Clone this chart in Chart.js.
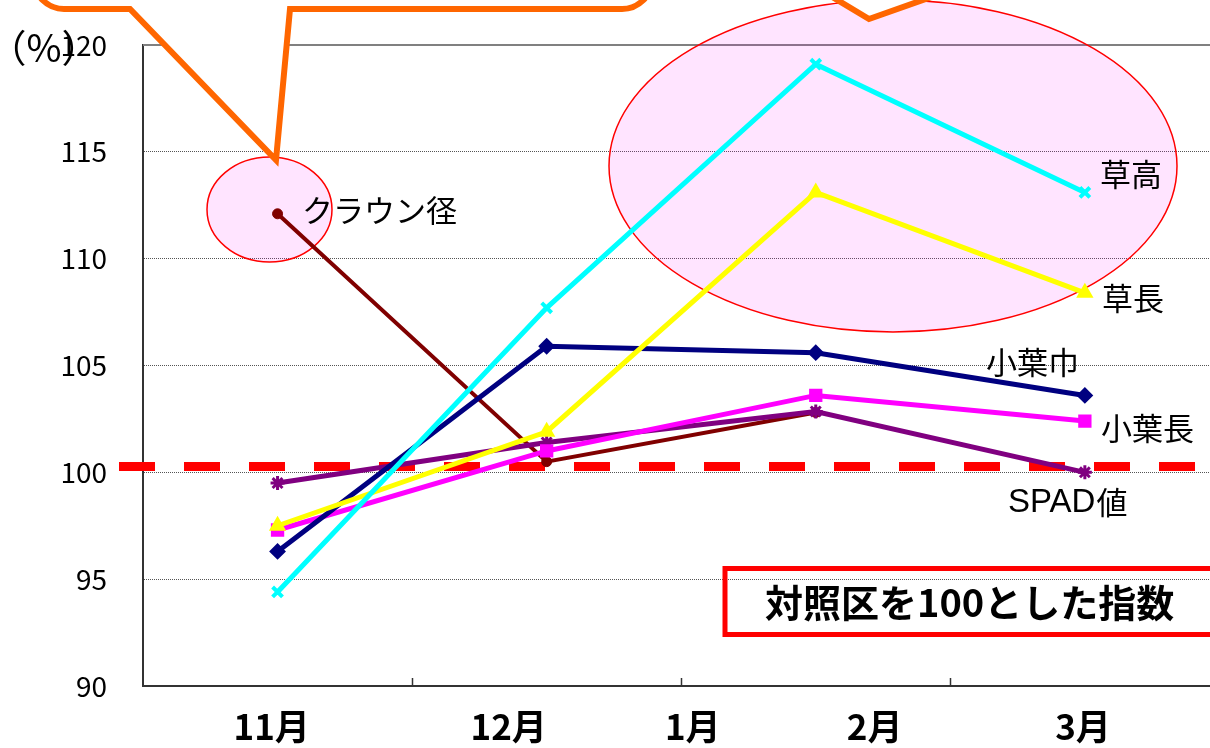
<!DOCTYPE html>
<html><head><meta charset="utf-8">
<script src="https://cdn.jsdelivr.net/npm/chart.js@4.4.1/dist/chart.umd.min.js"></script>
<style>html,body{margin:0;padding:0;background:#fff;overflow:hidden}#wrap{position:relative;width:1210px;height:748px}</style>
</head><body><div id="wrap"><canvas id="c"></canvas></div>
<script>
// ---- data ----
const categories = ['11月', '12月', '2月', '3月'];
const categoryPos = [0.5, 1.5, 2.5, 3.5];
const monthLabels = ['11月', '12月', '1月', '2月', '3月'];
const monthLabelPos = [0.478, 1.359, 2.043, 2.719, 3.493];
const kusadaka = [94.4, 107.7, 119.1, 113.1];      // 草高
const kusanaga = [97.5, 101.9, 113.1, 108.4];      // 草長
const shoyouhaba = [96.3, 105.9, 105.6, 103.6];    // 小葉巾
const shoyouchou = [97.3, 101.0, 103.6, 102.4];    // 小葉長
const spad = [99.5, 101.4, 102.85, 100.0];         // SPAD値
const crown = [112.1, 100.5, 102.8, null];         // クラウン径
const yTicks = [90, 95, 100, 105, 110, 115, 120];
const referenceLine = 100.27;

const FONT = '"Noto Sans CJK JP", "Noto Sans", sans-serif';
const pts = arr => arr.map((v, i) => ({x: categoryPos[i], y: v}));

function series(label, data, color, style, radius, bw, lw) {
  return {
    label, data: pts(data), borderColor: color, backgroundColor: color,
    borderWidth: lw, pointStyle: style, pointRadius: radius,
    pointBorderWidth: bw, pointBackgroundColor: color, pointBorderColor: color,
    tension: 0, spanGaps: false
  };
}

function ellipse(ctx, cx, cy, rx, ry) {
  ctx.beginPath();
  ctx.ellipse(cx, cy, rx, ry, 0, 0, Math.PI * 2);
  ctx.fillStyle = 'rgba(255,0,255,0.105)';
  ctx.fill();
  ctx.strokeStyle = '#FF0000';
  ctx.lineWidth = 1.5;
  ctx.stroke();
}

const overlay = {
  id: 'overlay',
  beforeDatasetsDraw(chart) {
    const {ctx, chartArea: a, scales: {x, y}} = chart;
    ctx.save();
    const yt = y.getPixelForValue(120);
    ctx.strokeStyle = '#808080'; ctx.lineWidth = 2;
    ctx.beginPath(); ctx.moveTo(a.left, yt); ctx.lineTo(a.right, yt); ctx.stroke();
    ellipse(ctx, 269.5, 209.5, 62.5, 52.5);
    ellipse(ctx, 893, 166, 284, 166);
    ctx.strokeStyle = '#333'; ctx.lineWidth = 1.5;
    [1, 2, 3].forEach(v => {
      const px = Math.round(x.getPixelForValue(v)) + 0.5;
      ctx.beginPath(); ctx.moveTo(px, a.bottom - 8); ctx.lineTo(px, a.bottom); ctx.stroke();
    });
    const yr = y.getPixelForValue(referenceLine);
    ctx.strokeStyle = '#FF0000'; ctx.lineWidth = 9; ctx.setLineDash([36, 29]);
    ctx.beginPath(); ctx.moveTo(119, yr); ctx.lineTo(1196, yr); ctx.stroke();
    ctx.restore();
  },
  afterDraw(chart) {
    const {ctx} = chart;
    ctx.save();
    ctx.fillStyle = '#000';
    ctx.textBaseline = 'middle';
    ctx.textAlign = 'left';
    ctx.font = '31px ' + FONT;
    ctx.fillText('草高', 1100, 174);
    ctx.fillText('草長', 1102, 298);
    ctx.fillText('小葉巾', 986, 362);
    ctx.fillText('小葉長', 1101, 428);
    ctx.fillText('クラウン径', 302, 210);
    ctx.font = '33px "Liberation Sans", Arial, sans-serif';
    ctx.fillText('SPAD', 1008, 503);
    const sw = ctx.measureText('SPAD').width;
    ctx.font = '31px ' + FONT;
    ctx.fillText('値', 1008 + sw + 1, 502);
    ctx.textAlign = 'center';
    ctx.font = '38px ' + FONT;
    ctx.fillText('（%）', 44, 48);
    // red box
    ctx.strokeStyle = '#FF0000'; ctx.lineWidth = 5;
    ctx.strokeRect(725, 568.5, 500, 66);
    ctx.textAlign = 'left';
    ctx.font = 'bold 38px ' + FONT;
    ctx.fillText('対照区を100とした指数', 765, 603);
    // callouts
    ctx.lineWidth = 6; ctx.strokeStyle = '#FF6600'; ctx.fillStyle = '#FFFFFF';
    ctx.lineJoin = 'miter'; ctx.miterLimit = 10;
    const L = 34, R = 652, B = 9, T = -200, r = 30;
    ctx.beginPath();
    ctx.moveTo(L, T);
    ctx.lineTo(L, B - r);
    ctx.arcTo(L, B, L + r, B, r);
    ctx.lineTo(130, B);
    ctx.lineTo(276, 160);
    ctx.lineTo(290, B);
    ctx.lineTo(R - r, B);
    ctx.arcTo(R, B, R, B - r, r);
    ctx.lineTo(R, T);
    ctx.closePath();
    ctx.fill(); ctx.stroke();
    ctx.beginPath();
    ctx.moveTo(700, -200);
    ctx.lineTo(700, -5);
    ctx.lineTo(829, -5);
    ctx.lineTo(869, 19);
    ctx.lineTo(937, -5);
    ctx.lineTo(1100, -5);
    ctx.lineTo(1100, -200);
    ctx.closePath();
    ctx.fill(); ctx.stroke();
    ctx.restore();
  }
};

new Chart(document.getElementById('c'), {
  type: 'line',
  data: {
    datasets: [
      series('草高', kusadaka, '#00FFFF', 'crossRot', 7, 4, 5),
      series('草長', kusanaga, '#FFFF00', 'triangle', 8, 2, 5),
      series('小葉巾', shoyouhaba, '#000080', 'rectRot', 7, 2, 5),
      series('小葉長', shoyouchou, '#FF00FF', 'rect', 8, 2, 5),
      series('SPAD値', spad, '#800080', 'star', 7, 3, 5),
      series('クラウン径', crown, '#800000', 'circle', 5, 1, 4)
    ]
  },
  options: {
    responsive: true, maintainAspectRatio: false, animation: false,
    layout: {autoPadding: false, padding: {top: 45, left: 0, right: 0, bottom: 0}},
    plugins: {legend: {display: false}, tooltip: {enabled: false}},
    scales: {
      x: {
        type: 'linear', min: 0, max: 3.965,
        afterFit(s) { s.height = 62; s.paddingLeft = 0; s.paddingRight = 0; s.paddingTop = 0; s.paddingBottom = 0; },
        afterBuildTicks(s) { s.ticks = monthLabelPos.map(v => ({value: v})); },
        grid: {display: true, color: 'rgba(0,0,0,0)', drawTicks: false, drawOnChartArea: false},
        border: {display: true, color: '#333', width: 2},
        ticks: {
          autoSkip: false, maxRotation: 0, padding: 20, color: '#000',
          font: {family: FONT, size: 35, weight: 'bold'},
          callback: (v, i) => monthLabels[i]
        }
      },
      y: {
        min: 90, max: 120,
        afterFit(s) { s.width = 143; s.paddingLeft = 0; s.paddingRight = 0; s.paddingTop = 0; s.paddingBottom = 0; },
        afterBuildTicks(s) { s.ticks = yTicks.map(v => ({value: v})); },
        grid: {color: '#555', lineWidth: 1, drawTicks: false},
        border: {display: true, color: '#333', width: 2, dash: [1, 1]},
        ticks: {padding: 36, color: '#000', font: {family: FONT, size: 28}}
      }
    }
  },
  plugins: [overlay]
});
</script>
</body></html>
